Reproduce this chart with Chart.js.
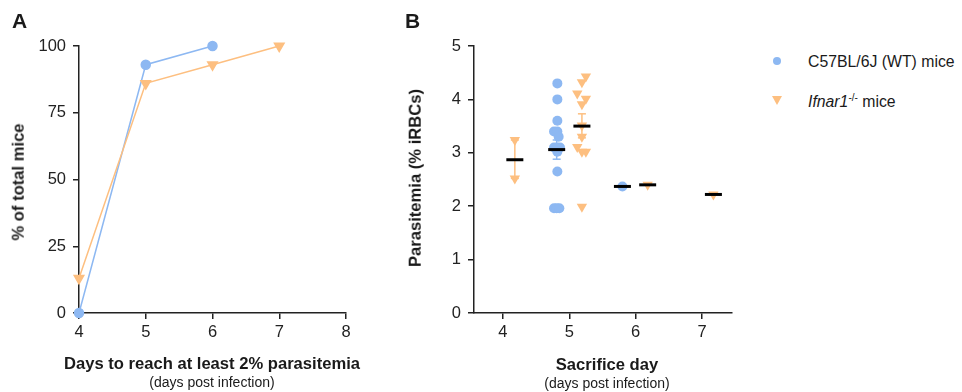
<!DOCTYPE html>
<html>
<head>
<meta charset="utf-8">
<script src="https://cdn.jsdelivr.net/npm/chart.js@4"></script>
<style>
  body { margin: 0; background: #fff; font-family: "Liberation Sans", Arial, sans-serif; color: #1a1a1a; }
  #wrap { position: relative; width: 962px; height: 392px; overflow: hidden; }
  .cv { position: absolute; top: 0; }
  .lbl { position: absolute; white-space: nowrap; line-height: 1; }
  .panel { font-weight: bold; font-size: 21px; }
  .ytitle { font-weight: bold; font-size: 16.6px; transform: translate(-50%, -50%) rotate(-90deg); }
  .xtitle { font-weight: bold; font-size: 16.6px; transform: translateX(-50%); }
  .xsub { font-size: 14px; transform: translateX(-50%); }
  .leg { font-size: 15.8px; }
</style>
</head>
<body>
<div id="wrap">
  <canvas id="chartA" class="cv" style="left:0px"></canvas>
  <canvas id="chartB" class="cv" style="left:390px"></canvas>
  <div class="lbl panel" style="left:12px;top:10px">A</div>
  <div class="lbl panel" style="left:405px;top:10px">B</div>
  <div class="lbl ytitle" style="left:19px;top:182px">% of total mice</div>
  <div class="lbl ytitle" style="left:416px;top:178px">Parasitemia (% iRBCs)</div>
  <div class="lbl xtitle" style="left:212px;top:356px">Days to reach at least 2% parasitemia</div>
  <div class="lbl xsub" style="left:212px;top:375px">(days post infection)</div>
  <div class="lbl xtitle" style="left:607px;top:357px">Sacrifice day</div>
  <div class="lbl xsub" style="left:607px;top:376px">(days post infection)</div>
  <div class="lbl" style="left:773px;top:57px;width:8px;height:8px;border-radius:50%;background:#8DB8F2"></div>
  <div class="lbl leg" style="left:808px;top:54px">C57BL/6J (WT) mice</div>
  <div class="lbl" style="left:772px;top:96px;width:0;height:0;border-left:5px solid transparent;border-right:5px solid transparent;border-top:9px solid #FDBF80"></div>
  <div class="lbl leg" style="left:808px;top:93px"><i>Ifnar1</i><sup style="font-size:10px">-/-</sup> mice</div>
</div>
<script>
// Panel A: cumulative % of mice reaching 2% parasitemia
const daysWt = [4, 5, 6];
const pctWt = [0, 93, 100];
const daysIfn = [4, 5, 6, 7];
const pctIfn = [13, 86, 93, 100];

// Panel B: individual parasitemia values (x = jittered sacrifice day)
const wtX = [4.82, 4.82, 4.82, 4.77, 4.82, 4.84, 4.77, 4.82, 4.86, 4.82, 4.82, 4.77, 4.81, 4.85, 5.80];
const wtY = [4.30, 4.00, 3.60, 3.40, 3.40, 3.30, 3.10, 3.10, 3.10, 3.02, 2.65, 1.96, 1.96, 1.96, 2.37];
const ifnX = [4.18, 4.18, 5.25, 5.19, 5.12, 5.25, 5.19, 5.19, 5.19, 5.12, 5.19, 5.25, 5.19, 6.18, 7.17];
const ifnY = [3.24, 2.52, 4.43, 4.32, 4.11, 4.01, 3.91, 3.51, 3.30, 3.11, 3.02, 3.02, 1.99, 2.40, 2.22];

// group means and error bars
const meanX = [4.18, 4.81, 5.19, 5.80, 6.18, 7.17];
const meanY = [2.87, 3.06, 3.50, 2.37, 2.40, 2.22];
const errWtX = [4.81];
const errWtLo = [2.88];
const errWtHi = [3.24];
const errIfnX = [4.18, 5.19];
const errIfnLo = [2.52, 3.28];
const errIfnHi = [3.24, 3.73];

const blue = '#8DB8F2';
const orange = '#FDBF80';
const ink = '#222';
const tickFont = { family: '"Liberation Sans", Arial, sans-serif', size: 16.5 };

function toPoints(xs, ys) {
  return xs.map((x, i) => ({ x: x, y: ys[i] }));
}
function errPoints(xs, lo, hi) {
  const out = [];
  xs.forEach((x, i) => {
    out.push({ x: x, y: lo[i] }, { x: x, y: hi[i] }, { x: x, y: null });
  });
  return out;
}

function axis(min, max, step, yAxis, size) {
  return {
    type: 'linear',
    min: min,
    max: max,
    border: { display: true, color: ink, width: 1.5 },
    grid: { drawOnChartArea: false, drawTicks: true, tickLength: 6, color: ink, lineWidth: 1.5 },
    ticks: { stepSize: step, color: ink, font: tickFont, padding: yAxis ? 7 : 4 },
    afterFit: s => { if (yAxis) s.width = size; else s.height = size; }
  };
}

const canvasA = document.getElementById('chartA');
canvasA.width = 372; canvasA.height = 392;
canvasA.style.width = '372px'; canvasA.style.height = '392px';

new Chart(canvasA.getContext('2d'), {
  type: 'line',
  data: {
    datasets: [
      {
        data: toPoints(daysIfn, pctIfn),
        borderColor: orange, backgroundColor: orange, borderWidth: 1.5,
        pointStyle: 'triangle', rotation: 180, pointRadius: 5.5, clip: false
      },
      {
        data: toPoints(daysWt, pctWt),
        borderColor: blue, backgroundColor: blue, borderWidth: 1.5,
        pointStyle: 'circle', pointRadius: 4.5, clip: false
      }
    ]
  },
  options: {
    responsive: false,
    animation: false,
    layout: { padding: { top: 46, right: 26, left: 0, bottom: 0 } },
    plugins: { legend: { display: false }, tooltip: { enabled: false } },
    scales: {
      x: axis(4, 8, 1, false, 79),
      y: axis(0, 100, 25, true, 79)
    }
  }
});

const canvasB = document.getElementById('chartB');
canvasB.width = 372; canvasB.height = 392;
canvasB.style.width = '372px'; canvasB.style.height = '392px';

new Chart(canvasB.getContext('2d'), {
  type: 'scatter',
  data: {
    datasets: [
      {
        type: 'line', data: errPoints(errWtX, errWtLo, errWtHi), spanGaps: false,
        borderColor: blue, borderWidth: 1.5, pointStyle: 'line', pointRadius: 4,
        pointBorderColor: blue, pointBorderWidth: 1.5, order: 5
      },
      {
        type: 'line', data: errPoints(errIfnX, errIfnLo, errIfnHi), spanGaps: false,
        borderColor: orange, borderWidth: 1.5, pointStyle: 'line', pointRadius: 4,
        pointBorderColor: orange, pointBorderWidth: 1.5, order: 5
      },
      {
        data: toPoints(wtX, wtY), pointStyle: 'circle', pointRadius: 5,
        backgroundColor: blue, borderColor: blue, borderWidth: 0, order: 3
      },
      {
        data: toPoints(ifnX, ifnY), pointStyle: 'triangle', rotation: 180, pointRadius: 6,
        backgroundColor: orange, borderColor: orange, borderWidth: 0, order: 3
      },
      {
        data: toPoints(meanX, meanY), pointStyle: 'line', pointRadius: 8.5,
        borderColor: '#000', borderWidth: 3, order: 1
      }
    ]
  },
  options: {
    responsive: false,
    animation: false,
    layout: { padding: { top: 46, right: 30, left: 0, bottom: 0 } },
    plugins: { legend: { display: false }, tooltip: { enabled: false } },
    scales: {
      x: Object.assign(axis(3.565, 7.45, 1, false, 79), {
        afterBuildTicks: s => { s.ticks = [4, 5, 6, 7].map(v => ({ value: v })); }
      }),
      y: axis(0, 5, 1, true, 84)
    }
  }
});
</script>
</body>
</html>
